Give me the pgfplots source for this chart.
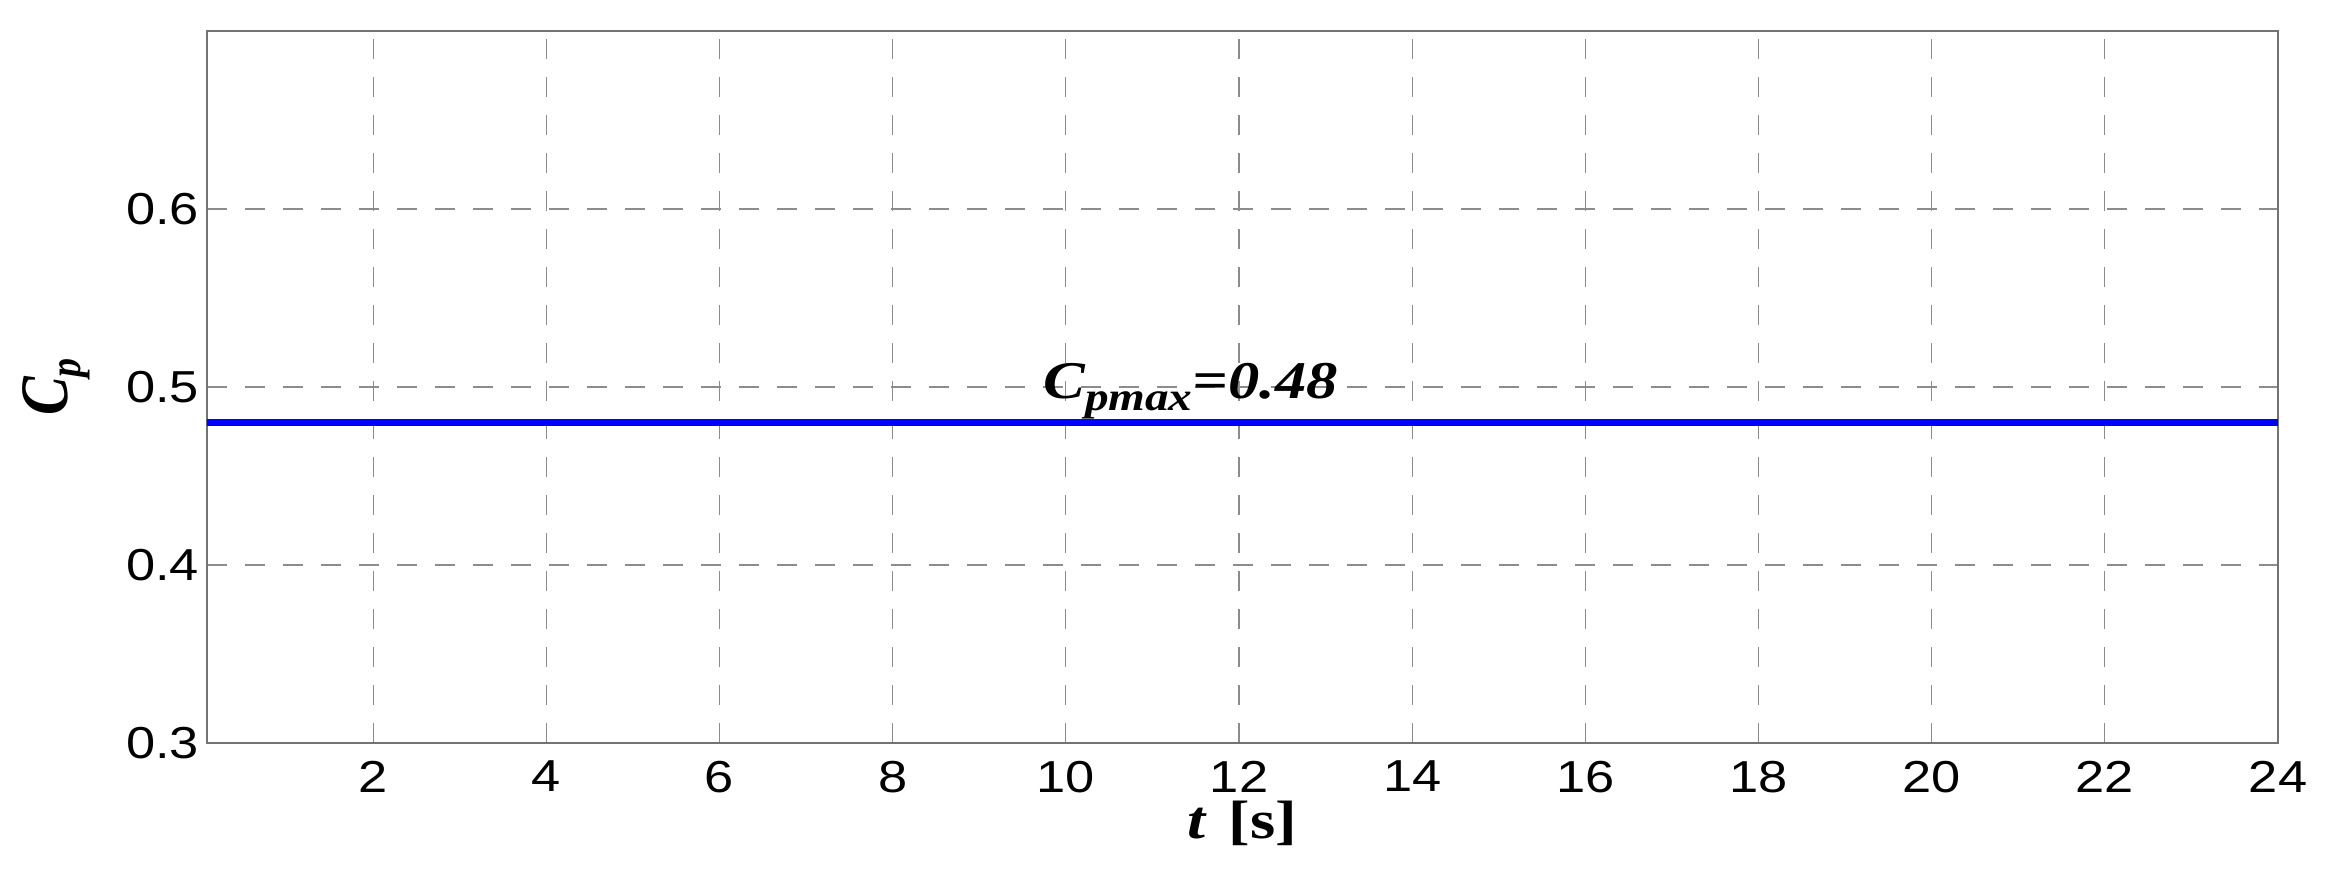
\documentclass[border=0pt]{standalone}
\usepackage{fontspec}
\setmainfont{Liberation Serif}
\setsansfont{Liberation Sans}
\usepackage{pgfplots}
\pgfplotsset{compat=1.18}

% the reference's text is drawn a little wider than tall
\newcommand{\wide}[1]{\scalebox{1.17}[1]{#1}}

\begin{document}
\begin{tikzpicture}
\begin{axis}[
    name=ax,
    at={(0,0)}, anchor=south west,
    width=517.75pt, height=178pt,
    scale only axis,
    xmin=0.08, xmax=24,
    ymin=0.3, ymax=0.7,
    xtick={2,4,...,24},
    ytick={0.3,0.4,0.5,0.6},
    xticklabel={\wide{\pgfmathprintnumber{\tick}}},
    yticklabel={\wide{\pgfmathprintnumber[fixed,precision=1,fixed zerofill]{\tick}}},
    /pgf/number format/assume math mode=true,
    ticklabel style={font=\sffamily\fontsize{11.2}{11.2}\selectfont},
    major tick length=0pt,
    axis line style={draw=black!55, line width=0.4pt},
    grid=major,
    major grid style={draw=black!45, line width=0.3pt, dash pattern=on 5pt off 4.5pt},
    xticklabel style={yshift=-1pt},
    yticklabel style={xshift=1.5pt},
    xlabel={\fontsize{13.5}{13.5}\selectfont\bfseries\scalebox{1.2}[1]{\itshape t\hspace{0.35em}\upshape[s]}},
    xlabel style={at={(axis description cs:0.5,0)}, anchor=base, yshift=-23.75pt},
    ylabel={\fontsize{14.5}{14.5}\selectfont\bfseries\scalebox{1}[1.17]{\itshape C\raisebox{-2.8pt}{\fontsize{9.5}{9.5}\selectfont p}}},
    ylabel style={at={(axis description cs:0,0.5)}, anchor=center, yshift=37.75pt},
    clip=true,
]
\addplot[blue, line width=1.75pt] coordinates {(0,0.48) (24,0.48)};
\node[anchor=base west, inner sep=0pt] at (axis cs:9.73,0.4938)
    {\fontsize{13.25}{13.25}\selectfont\bfseries\scalebox{1.18}[1]{\itshape C\raisebox{-3pt}{\fontsize{10}{10}\selectfont pmax}=0.48}};
\end{axis}
\pgfresetboundingbox
\useasboundingbox (-51.75pt,-33.25pt) rectangle (530.75pt,185.75pt);
\end{tikzpicture}
\end{document}
